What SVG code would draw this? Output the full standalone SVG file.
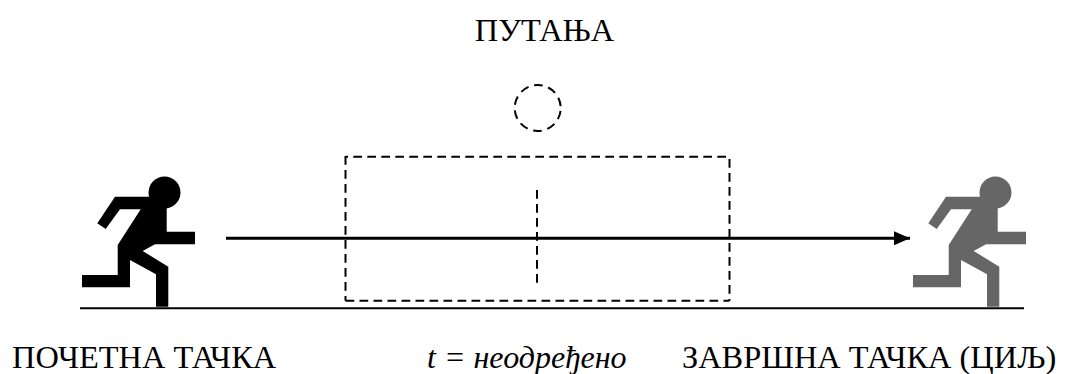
<svg xmlns="http://www.w3.org/2000/svg" width="1067" height="374" viewBox="0 0 1067 374">
<style>
text{font-family:"Liberation Serif","Times New Roman",serif;font-size:32.4px;fill:#000}
.d{fill:none;stroke:#000;stroke-width:2;stroke-dasharray:8.7 5.3}
</style>
<defs>
<marker id="a" markerUnits="userSpaceOnUse" markerWidth="17" markerHeight="14" refX="16" refY="7" orient="auto"><path d="M0 0L16 7L0 14Z" fill="#000"/></marker>
<g id="runner"><circle cx="164.5" cy="192.500" r="16"/><path d="M115 196.700H150L166.700 205V231.700H195V244.300H155L142.700 251L168.300 266.700V306.700H156V274.300L130 260V287.300H82V275H117.700V245L140.700 209.300H120L105.700 229L97.300 223.300Z"/></g>
</defs>
<rect width="1067" height="374" fill="#fff"/>
<g id="runner-start"><use href="#runner" fill="#000"/></g>
<g id="runner-end"><use href="#runner" x="831" fill="#666"/></g>
<g id="ground"><path d="M80 308.300H1024" stroke="#000" stroke-width="2"/></g>
<g id="ball"><circle class="d" cx="537.700" cy="108" r="23" style="stroke-dasharray:8.7 5.75;stroke-dashoffset:-2.9"/></g>
<g id="box">
<path class="d" d="M345.500 156.700H729.500" stroke-dashoffset="6.200"/>
<path class="d" d="M345.500 156V300.700"/>
<path class="d" d="M345.500 300.700H729.500"/>
<path class="d" d="M729.500 157V300.700" stroke-dashoffset="12"/>
<path class="d" d="M537 190V283"/>
</g>
<g id="connectors"><path d="M226 238.300H910" stroke="#000" stroke-width="3" marker-end="url(#a)"/></g>
<g id="labels">
<text x="544.500" y="40.500" text-anchor="middle">ПУТАЊА</text>
<text x="12" y="368">ПОЧЕТНА ТАЧКА</text>
<text x="626.500" y="368" font-style="italic" text-anchor="end" style="font-size:32px">t = неодређено</text>
<text x="682" y="368">ЗАВРШНА ТАЧКА (ЦИЉ)</text>
</g>
</svg>
